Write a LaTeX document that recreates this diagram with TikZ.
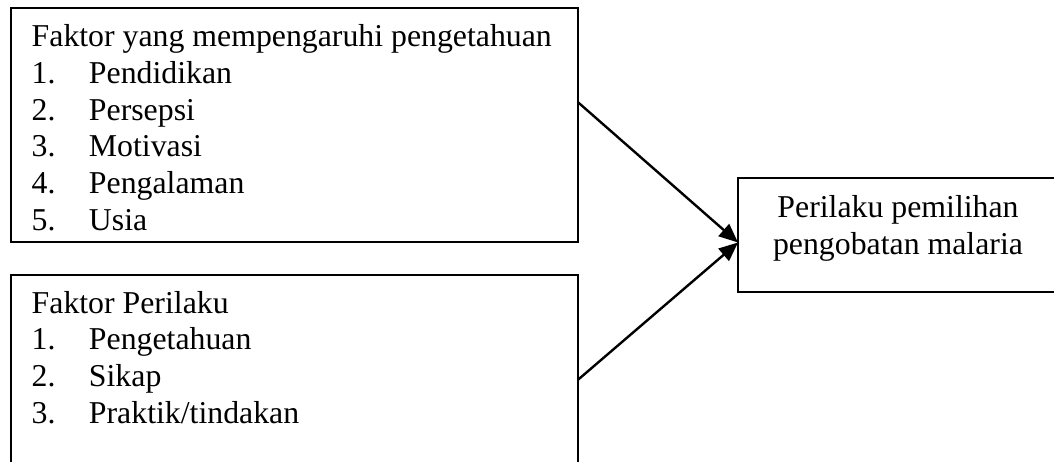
\documentclass[tikz,border=0pt]{standalone}
\usepackage{fontspec}
\setmainfont{Liberation Serif}
\usetikzlibrary{arrows.meta,calc}

\tikzset{
  box/.style={draw=black, line width=1.6pt, rectangle, outer sep=0pt, inner sep=0pt, anchor=north west},
  txt/.style={inner sep=0pt, outer sep=0pt, anchor=base west, font=\fontsize{31.8}{36.7}\selectfont},
  ctxt/.style={inner sep=0pt, outer sep=0pt, anchor=base, font=\fontsize{31.8}{36.7}\selectfont},
  link/.style={line width=2.4pt, -{Triangle[length=19pt,width=16pt]}}
}

\begin{document}
\begin{tikzpicture}[x=1pt,y=-1pt]
  \useasboundingbox (0,0) rectangle (1054,462);
  \clip (0,0) rectangle (1054,462);

  % knowledge factors
  \node[box, minimum width=566.7pt, minimum height=234pt] (know) at (11,8) {};
  \node[txt] (knowtxt) at (31.7,46.7) {%
    \begin{tabular}[t]{@{}p{57.3pt}@{}l@{}}
      \multicolumn{2}{@{}l@{}}{Faktor yang mempengaruhi pengetahuan}\\
      1. & Pendidikan\\
      2. & Persepsi\\
      3. & Motivasi\\
      4. & Pengalaman\\
      5. & Usia
    \end{tabular}};

  % behaviour factors (box runs past the lower edge)
  \node[box, minimum width=566.7pt, minimum height=220pt] (behav) at (11,275) {};
  \node[txt] (behavtxt) at (31.7,313) {%
    \begin{tabular}[t]{@{}p{57.3pt}@{}l@{}}
      \multicolumn{2}{@{}l@{}}{Faktor Perilaku}\\
      1. & Pengetahuan\\
      2. & Sikap\\
      3. & Praktik/tindakan
    \end{tabular}};

  % outcome (box runs past the right edge)
  \node[box, minimum width=320pt, minimum height=114pt] (choice) at (738,178) {};
  \node[ctxt] (choicetxt) at (898,218) {%
    \begin{tabular}[t]{@{}c@{}}
      Perilaku pemilihan\\
      pengobatan malaria
    \end{tabular}};

  % connector end points on the box edges
  \coordinate (knowout) at ($(know.north east)+(0,94)$);
  \coordinate (behavout) at ($(behav.north east)+(0,105)$);
  \coordinate (choicein) at ($(choice.north west)+(0,64.5)$);

  \draw[link] (knowout) -- (choicein);
  \draw[link] (behavout) -- (choicein);
\end{tikzpicture}
\end{document}
